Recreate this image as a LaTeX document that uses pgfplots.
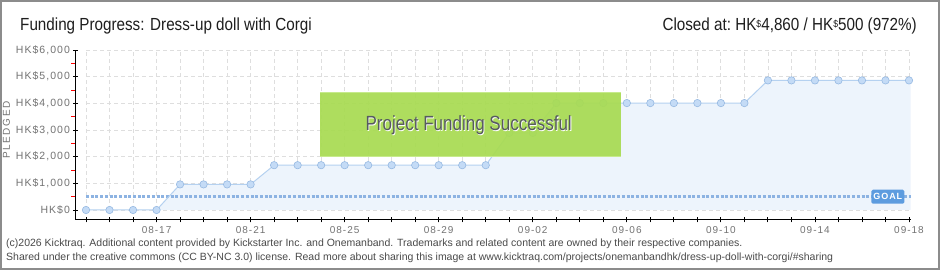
\documentclass[border=0pt]{standalone}
\usepackage{fontspec}
\setmainfont{Liberation Sans}
\newfontfamily\kt[FakeStretch=0.87]{Liberation Sans}
\newfontfamily\ktb[FakeStretch=0.83]{Liberation Sans}
\newfontfamily\px[LetterSpace=10]{Liberation Sans}
\newfontfamily\pxw[LetterSpace=16]{Liberation Sans}
\usepackage{pgfplots}
\usepackage{pgfplotstable}
\pgfplotsset{compat=1.18}

\definecolor{framec}{HTML}{8C8C8C}
\definecolor{gridc}{HTML}{DEDEDE}
\definecolor{fillc}{HTML}{EDF4FC}
\definecolor{linec}{HTML}{B5D1F0}
\definecolor{markf}{HTML}{C4DBF6}
\definecolor{markd}{HTML}{96B9E2}
\definecolor{goalc}{HTML}{8DB3E2}
\definecolor{goalbox}{HTML}{5D9CDF}
\definecolor{greenbox}{HTML}{A8DB52}
\definecolor{greenedge}{HTML}{C6EA8C}
\definecolor{ticklab}{HTML}{737373}
\definecolor{txt}{HTML}{1E1E1E}
\definecolor{boxtxt}{HTML}{565B60}
\definecolor{footc}{HTML}{4A4A4A}

\pgfplotstableread{
x y
0 0
1 0
2 0
3 0
4 960
5 960
6 960
7 960
8 1680
9 1680
10 1680
11 1680
12 1680
13 1680
14 1680
15 1680
16 1680
17 1680
18 2890
19 2890
20 4010
21 4010
22 4010
23 4010
24 4010
25 4010
26 4010
27 4010
28 4010
29 4860
30 4860
31 4860
32 4860
33 4860
34 4860
35 4860
}\pledged

\begin{document}
\begin{tikzpicture}[x=1pt,y=1pt]
\useasboundingbox (0,0) rectangle (940,270);
\fill[white] (0,0) rectangle (940,270);
\draw[framec, line width=2pt] (1,1) rectangle (939,269);

\begin{axis}[
  at={(76pt,50pt)}, anchor=south west,
  scale only axis, width=834.5pt, height=170pt,
  xmin=-0.4255, xmax=35.064, ymin=-375, ymax=6000,
  axis x line*=bottom, axis y line*=left,
  axis line style={black, line width=1pt, -},
  xtick={3,7,...,35},
  xticklabels={08-17,08-21,08-25,08-29,09-02,09-06,09-10,09-14,09-18},
  minor xtick={0,...,35},
  ytick={0,1000,...,6000},
  yticklabels={HK\$0,{HK\$1,000},{HK\$2,000},{HK\$3,000},{HK\$4,000},{HK\$5,000},{HK\$6,000}},
  minor ytick={500,1500,...,5500},
  tick align=center,
  major tick length=5pt, minor tick length=5pt,
  x tick style={black, line width=0.9pt},
  major y tick style={black, line width=0.9pt},
  y tick style={black, line width=0.9pt},
  minor y tick style={red, line width=0.9pt, xshift=-2pt},
  xticklabel style={font=\px\fontsize{10}{10}\selectfont, text=ticklab},
  yticklabel style={font=\px\fontsize{10.5}{10}\selectfont, text=ticklab},
  clip=false,
]
\pgfplotsinvokeforeach{0,...,35}{
  \draw[gridc, line width=0.8pt, dash pattern=on 4pt off 3pt] (axis cs:#1,0) -- (axis cs:#1,6000);
}
\pgfplotsinvokeforeach{0,1000,...,6000}{
  \draw[gridc, line width=0.8pt, dash pattern=on 4pt off 3pt] (axis cs:0,#1) -- (axis cs:35.064,#1);
}
\addplot[fill=fillc, draw=none, forget plot] table[x=x,y=y]{\pledged} -- (axis cs:35.064,4860) -- (axis cs:35.064,0) -- cycle;
\addplot[goalc, line width=3pt, dash pattern=on 3pt off 1.7pt] coordinates {(0,500) (35.064,500)};
\addplot[linec, line width=1pt, mark=*, mark size=3.7pt,
  mark options={fill=markf, draw=markd, line width=0.6pt}] table[x=x,y=y]{\pledged};
\node[fill=goalbox, rounded corners=1.5pt, text=white, minimum width=33pt, minimum height=14pt, inner sep=0pt,
  font=\px\bfseries\fontsize{9}{9}\selectfont] at (axis cs:34.1,500) {GOAL};
\end{axis}

% green banner
\fill[greenbox, opacity=0.93] (320,112.5) rectangle (621,178);
\draw[greenedge, line width=1pt] (320,177.5) -- (621,177.5);
\draw[greenedge, line width=1pt] (320,113) -- (621,113);
\node[text=white, inner sep=0pt] at (469.5,143.5) {\ktb\fontsize{20.5}{24}\selectfont Project Funding Successful};
\node[text=boxtxt, inner sep=0pt] at (468.7,144.3) {\ktb\fontsize{20.5}{24}\selectfont Project Funding Successful};

% titles
\node[anchor=base west, inner sep=0pt, text=txt] at (20,239) {\kt\fontsize{17.5}{20}\selectfont Funding Progress: Dress-up doll with Corgi};
\node[anchor=base east, inner sep=0pt, text=txt] at (917,239) {\kt\fontsize{17.5}{20}\selectfont Closed at:\ HK\raisebox{3pt}{\fontsize{10}{10}\selectfont\$}4,860 /\ HK\raisebox{3pt}{\fontsize{10}{10}\selectfont\$}500 (972\%)};

% y label
\node[rotate=90, text=ticklab, inner sep=0pt, font=\pxw\fontsize{10}{10}\selectfont] at (6.5,140) {PLEDGED};

% footer
\node[anchor=base west, inner sep=0pt, text=footc, font=\fontsize{10.5}{11}\selectfont] at (6,23.5) {(c)2026 Kicktraq. Additional content provided by Kickstarter Inc. and Onemanband. Trademarks and related content are owned by their respective companies.};
\node[anchor=base west, inner sep=0pt, text=footc, font=\fontsize{10.5}{11}\selectfont] at (6,9.5) {Shared under the creative commons (CC BY-NC 3.0) license. Read more about sharing this image at www.kicktraq.com/projects/onemanbandhk/dress-up-doll-with-corgi/\#sharing};
\end{tikzpicture}
\end{document}
